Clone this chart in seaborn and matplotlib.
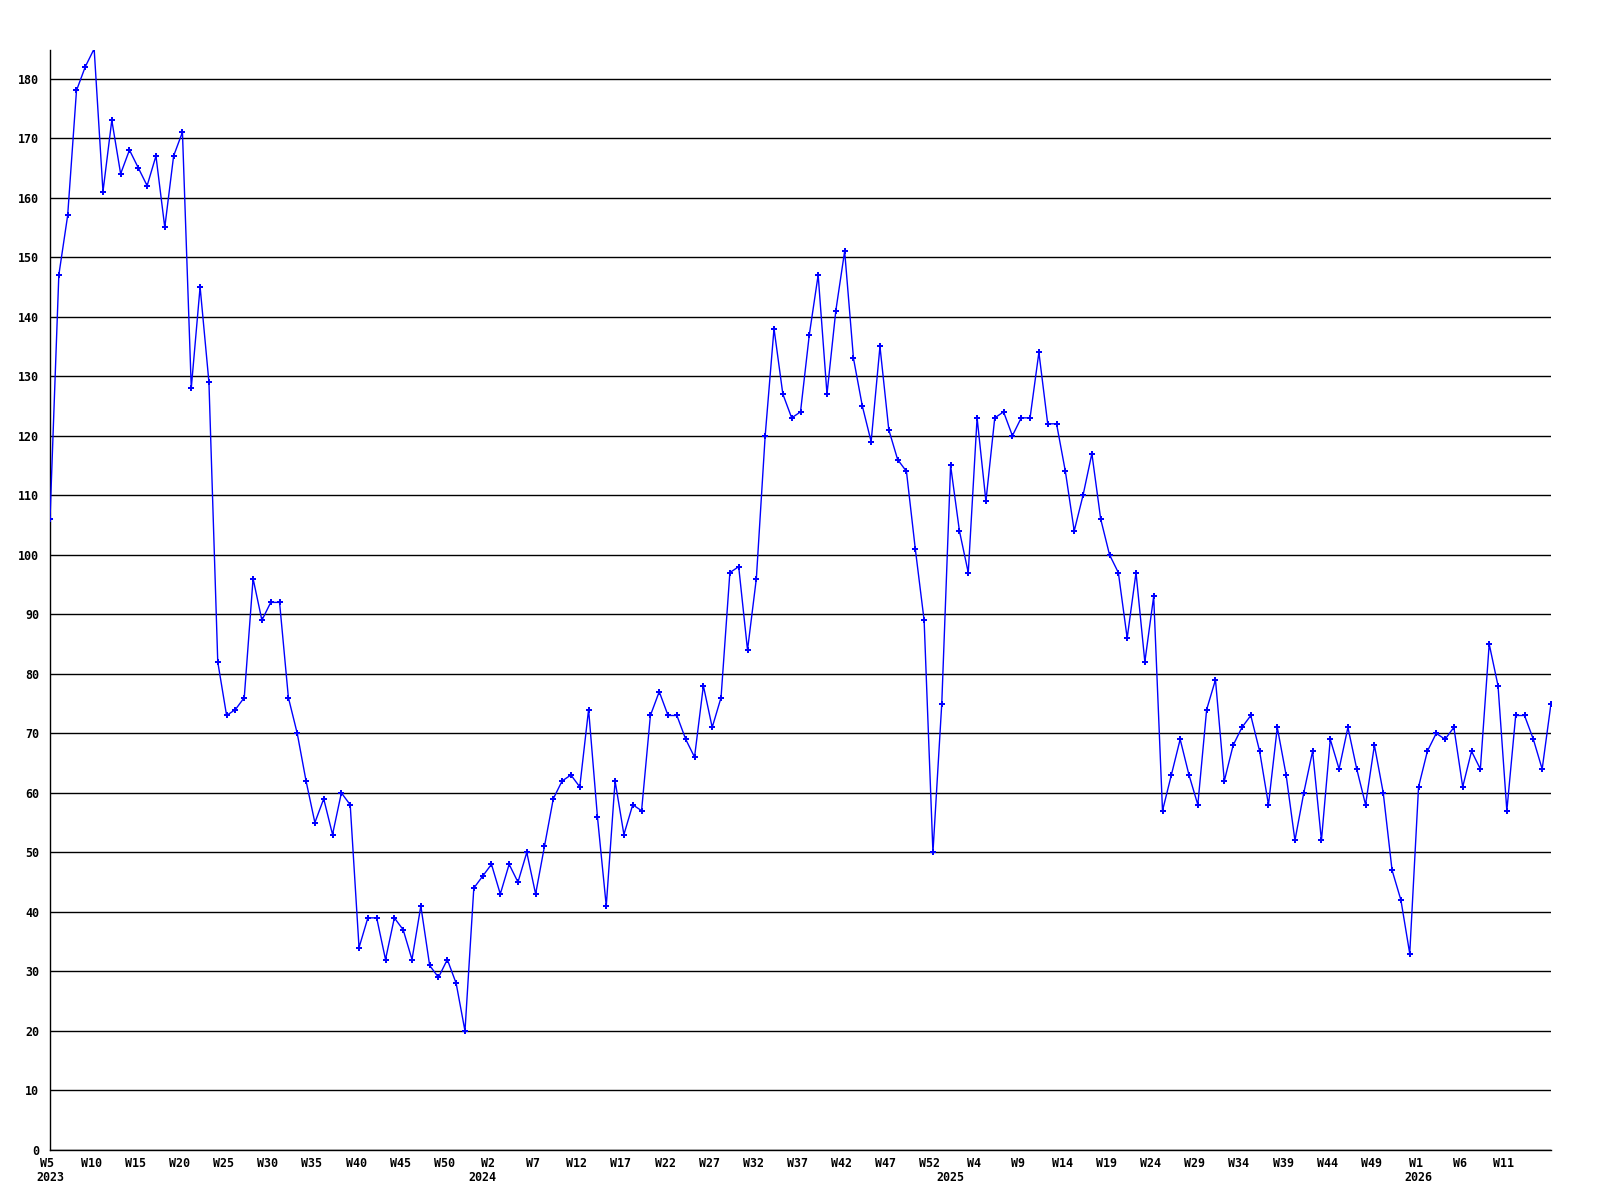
import matplotlib
matplotlib.use("Agg")
import matplotlib.pyplot as plt
import matplotlib.transforms as mtransforms
import seaborn as sns
import pandas as pd
import numpy as np

# ---- data ----
values = [
    106, 147, 157, 178, 182, 185, 161, 173, 164, 168,
    165, 162, 167, 155, 167, 171, 128, 145, 129, 82,
    73, 74, 76, 96, 89, 92, 92, 76, 70, 62,
    55, 59, 53, 60, 58, 34, 39, 39, 32, 39,
    37, 32, 41, 31, 29, 32, 28, 20, 44, 46,
    48, 43, 48, 45, 50, 43, 51, 59, 62, 63,
    61, 74, 56, 41, 62, 53, 58, 57, 73, 77,
    73, 73, 69, 66, 78, 71, 76, 97, 98, 84,
    96, 120, 138, 127, 123, 124, 137, 147, 127, 141,
    151, 133, 125, 119, 135, 121, 116, 114, 101, 89,
    50, 75, 115, 104, 97, 123, 109, 123, 124, 120,
    123, 123, 134, 122, 122, 114, 104, 110, 117, 106,
    100, 97, 86, 97, 82, 93, 57, 63, 69, 63,
    58, 74, 79, 62, 68, 71, 73, 67, 58, 71,
    63, 52, 60, 67, 52, 69, 64, 71, 64, 58,
    68, 60, 47, 42, 33, 61, 67, 70, 69, 71,
    61, 67, 64, 85, 78, 57, 73, 73, 69, 64,
    75,
]
week_labels = [
    "W5", "W10", "W15", "W20", "W25", "W30", "W35", "W40", "W45", "W50",
    "W2", "W7", "W12", "W17", "W22", "W27", "W32", "W37", "W42", "W47", "W52",
    "W4", "W9", "W14", "W19", "W24", "W29", "W34", "W39", "W44", "W49",
    "W1", "W6", "W11",
]
year_labels = ["2023", "2024", "2025", "2026"]
year_index = [0, 49, 102, 155]
y_ticks = list(range(0, 190, 10))[:19]

df = pd.DataFrame({"idx": np.arange(len(values)), "value": values})

sns.set_style("white")
plt.rcParams["font.family"] = ["DejaVu Sans Mono"]

fig = plt.figure(figsize=(16, 12), dpi=100)
ax = fig.add_axes([50 / 1600, 1 - 1150 / 1200, 1501 / 1600, 1100 / 1200])

sns.lineplot(data=df, x="idx", y="value", ax=ax, color="#0000FF", linewidth=1.0,
             marker="P", markersize=5, markeredgewidth=0, markerfacecolor="#0000FF",
             zorder=3)

ax.set_xlim(0, len(values) - 1)
ax.set_ylim(0, 184.8)

ax.set_yticks(y_ticks)
ax.set_yticklabels([str(v) for v in y_ticks])
tick_pos = [i * 5 for i in range(len(week_labels))]
ax.set_xticks(tick_pos)
ax.set_xticklabels(week_labels)

ax.tick_params(axis="both", length=0, labelsize=8.4, colors="black")
ax.tick_params(axis="y", pad=8)
ax.tick_params(axis="x", pad=5)
shift = mtransforms.ScaledTranslation(-3 / 100, 0, fig.dpi_scale_trans)
for lab in ax.get_xticklabels():
    lab.set_fontweight("bold")
    lab.set_transform(lab.get_transform() + shift)
for lab in ax.get_yticklabels():
    lab.set_fontweight("bold")

ax.yaxis.grid(True, color="black", linewidth=1.0)
ax.xaxis.grid(False)
ax.set_axisbelow(True)

for s in ["top", "right"]:
    ax.spines[s].set_visible(False)
for s in ["left", "bottom"]:
    ax.spines[s].set_color("black")
    ax.spines[s].set_linewidth(1.0)

ax.set_xlabel("")
ax.set_ylabel("")

trans = mtransforms.blended_transform_factory(ax.transData, ax.transAxes)
for lab, xi in zip(year_labels, year_index):
    ax.text(xi, -0.019, lab, transform=trans, ha="center", va="top",
            fontsize=8.4, fontweight="bold", color="black")

fig.savefig("out.png", dpi=100, facecolor="white")
